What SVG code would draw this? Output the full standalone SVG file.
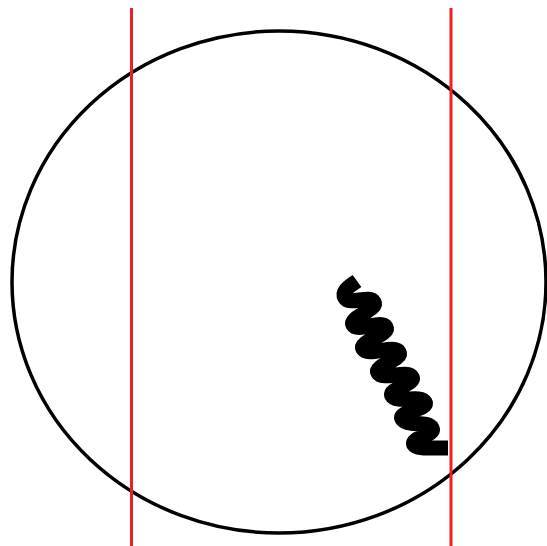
<svg xmlns="http://www.w3.org/2000/svg" width="547" height="546" viewBox="0 0 547 546">
<style>
.red{stroke:#ee2026;stroke-width:3;fill:none}
</style>
<rect width="547" height="546" fill="#fff"/>
<g id="circle"><ellipse cx="279" cy="282" rx="267" ry="251" fill="none" stroke="#000" stroke-width="3.5"/></g>
<g id="lines">
<line class="red" x1="131.5" y1="8" x2="131.5" y2="546"/>
<line class="red" x1="451" y1="8" x2="451" y2="546"/>
</g>
<g id="spring"><path d="M 357 281 C 350 286 341 291 345 298 C 349.5 305.7 369.5 294.3 374 302 C 378.5 309.7 348.5 317.3 353 325 C 357.5 332.7 381.5 319.3 386 327 C 390.5 334.7 358.5 341.3 363 349 C 367.5 356.7 394.5 344.3 399 352 C 403.5 359.7 373.5 365.3 378 373 C 382.5 380.7 407.5 369.3 412 377 C 416.5 384.7 387.5 388.3 392 396 C 396.5 403.7 420.5 394.3 425 402 C 429.5 409.7 397.5 411.3 402 419 C 406.5 426.7 427.5 420.3 432 428 C 436.5 435.7 409.5 437.3 414 445 C 416 449 430 448 448 448" fill="none" stroke="#000" stroke-width="15" stroke-linejoin="round" stroke-linecap="butt"/></g>
</svg>
